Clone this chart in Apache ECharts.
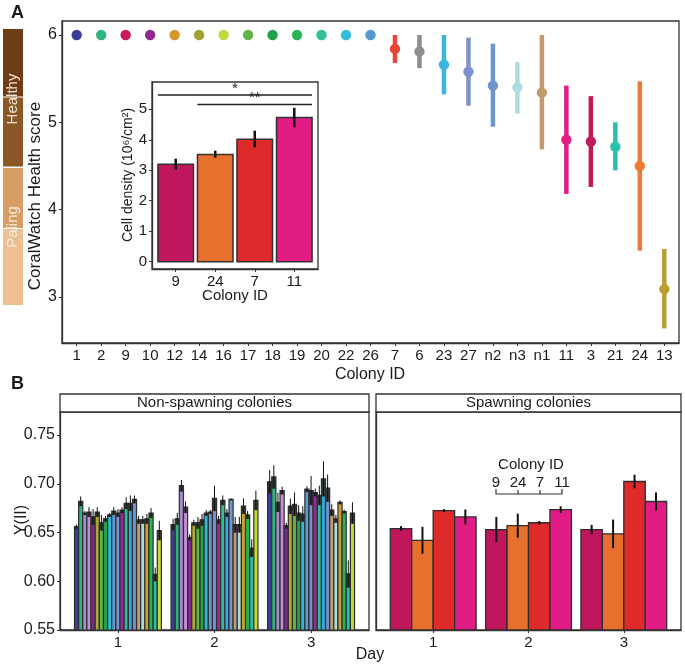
<!DOCTYPE html>
<html><head><meta charset="utf-8">
<script src="https://cdn.jsdelivr.net/npm/echarts@6.0.0/dist/echarts.min.js"></script>
<style>html,body{margin:0;padding:0;background:#fff}#c{width:685px;height:665px}</style>
</head><body><div id="c"></div>
<script>
// ---------- Panel A data ----------
const colonyIds = ['1','2','9','10','12','14','16','17','18','19','20','22','26','7','6','23','27','n2','n3','n1','11','3','21','24','13'];
const healthMean = [6,6,6,6,6,6,6,6,6,6,6,6,6,5.84,5.81,5.66,5.58,5.42,5.40,5.34,4.80,4.78,4.72,4.50,3.09];
const healthLow  = [6,6,6,6,6,6,6,6,6,6,6,6,6,5.68,5.62,5.32,5.19,4.95,5.10,4.69,4.18,4.26,4.45,3.53,2.64];
const healthHigh = [6,6,6,6,6,6,6,6,6,6,6,6,6,6.00,6.00,6.00,5.97,5.90,5.69,6.00,5.42,5.30,5.00,5.47,3.55];
const healthColors = ['#3b3e98','#2db57c','#c8195e','#93278f','#d5962b','#9fa332','#c4d93d','#62b647','#21a24a','#2ab552','#2fc09b','#33bcd5','#5598d2','#e8453c','#8e8e8e','#3cb4e0','#7f8fcc','#6f96cc','#a9dde2','#c49a6c','#e01e84','#be1a5c','#2bbfb0','#ef7a35','#b8a030'];
const healthTicks = [3,4,5,6];

// ---------- Inset data ----------
const insetIds = ['9','24','7','11'];
const insetDensity = [3.20,3.52,4.02,4.73];
const insetLow  = [3.02,3.41,3.75,4.41];
const insetHigh = [3.38,3.64,4.30,5.05];
const insetTicks = [0,1,2,3,4,5];
const spawnColors = ['#c0175c','#e8702f','#de2a2a','#e11c85'];
const sigFrom = [0,1];
const sigTo = [3,3];
const sigY = [5.47,5.16];
const sigText = ['*','**'];

// ---------- Panel B data ----------
const days = ['1','2','3'];
const yiiTicks = [0.55,0.60,0.65,0.70,0.75];
const nsColors = ['#3b3e98','#2db57c','#a98bd0','#c28fd0','#7a2a90','#b0a830','#5fb548','#22a54a','#32b8d8','#5b9bd5','#7f8fcc','#9a2a9a','#2cbf9a','#3aa6dc','#6f96cc','#c49a6c','#a8dde0','#c9a030','#27b553','#2bbfb0','#c6d83a'];
const nsDay1 = [0.656,0.682,0.670,0.671,0.666,0.671,0.660,0.664,0.668,0.672,0.670,0.673,0.680,0.680,0.684,0.663,0.663,0.664,0.670,0.607,0.652];
const nsDay2 = [0.658,0.664,0.698,0.676,0.645,0.660,0.660,0.663,0.670,0.671,0.685,0.663,0.683,0.670,0.684,0.658,0.658,0.677,0.668,0.634,0.683];
const nsDay3 = [0.702,0.707,0.681,0.693,0.657,0.677,0.679,0.670,0.669,0.6945,0.693,0.691,0.688,0.705,0.6955,0.673,0.664,0.681,0.6715,0.6075,0.670];
const nsErr1 = [0.002,0.005,0.002,0.005,0.008,0.005,0.008,0.003,0.002,0.004,0.004,0.003,0.006,0.008,0.004,0.004,0.004,0.005,0.005,0.007,0.010];
const nsErr2 = [0.006,0.006,0.006,0.006,0.003,0.003,0.006,0.006,0.003,0.002,0.013,0.004,0.005,0.004,0.001,0.008,0.008,0.008,0.004,0.009,0.010];
const nsErr3 = [0.012,0.012,0.010,0.004,0.003,0.008,0.012,0.008,0.008,0.003,0.015,0.004,0.010,0.018,0.014,0.006,0.004,0.002,0.002,0.014,0.011];
const spawnDay1 = [0.654,0.642,0.6725,0.666];
const spawnDay2 = [0.653,0.657,0.660,0.6735];
const spawnDay3 = [0.653,0.6486,0.7023,0.6818];
const spawnErr1 = [0.0025,0.0138,0.0014,0.0076];
const spawnErr2 = [0.013,0.0123,0.0017,0.0034];
const spawnErr3 = [0.0048,0.0147,0.007,0.0093];

// ---------- build ----------
const FONT = '"Liberation Sans", Arial, Helvetica, sans-serif';
const TXT = '#1a1a1a';
const nsMeans = [nsDay1, nsDay2, nsDay3];
const nsErrs = [nsErr1, nsErr2, nsErr3];
const spMeans = [spawnDay1, spawnDay2, spawnDay3];
const spErrs = [spawnErr1, spawnErr2, spawnErr3];

const healthData = colonyIds.map((c, i) => [i + 1, healthMean[i], healthLow[i], healthHigh[i]]);
const insetData = insetIds.map((c, i) => [i + 1, insetDensity[i], insetLow[i], insetHigh[i]]);
const sigData = sigFrom.map((f, i) => [f + 1, sigTo[i] + 1, sigY[i]]);
const nsData = [];
days.forEach((d, di) => nsMeans[di].forEach((m, k) => nsData.push([di + 1, k, m, nsErrs[di][k]])));
const spData = [];
days.forEach((d, di) => spMeans[di].forEach((m, k) => spData.push([di + 1, k, m, spErrs[di][k]])));

function gridBase(left, top, width, height) {
  return {left, top, width, height, show: true, borderColor: '#333', borderWidth: 1.3,
    backgroundColor: '#fff', containLabel: false, outerBoundsMode: 'none'};
}
function valX(gi, min, max, vals, labels, show) {
  return {type: 'value', gridIndex: gi, min, max,
    axisLine: {show: true, onZero: false, lineStyle: {color: '#333', width: 1.3}},
    splitLine: {show: false},
    axisTick: {show: show, length: 3, customValues: vals, lineStyle: {color: '#333'}},
    axisLabel: {show: show, customValues: vals, margin: 5, color: TXT, fontSize: 15, fontFamily: FONT,
      formatter: v => labels[Math.round(v) - 1]}};
}
function valY(gi, min, max, vals, fmt, show, fs) {
  return {type: 'value', gridIndex: gi, min, max,
    axisLine: {show: true, onZero: false, lineStyle: {color: '#333', width: 1.3}},
    splitLine: {show: false},
    axisTick: {show: show, length: 3, customValues: vals, lineStyle: {color: '#333'}},
    axisLabel: {show: show, customValues: vals, margin: 5, color: TXT, fontSize: fs, fontFamily: FONT, formatter: fmt}};
}

function groupedBars(n, colors, stroke, errW, darkTop) {
  return function (params, api) {
    const d = api.value(0), k = api.value(1), m = api.value(2), e = api.value(3);
    const unit = api.size([1, 0])[0];
    const top = api.coord([d, m]);
    const base = api.coord([d, 0.55])[1];
    const bw = unit * 0.9 / n;
    const x0 = top[0] - unit * 0.45 + k * bw;
    const yLo = api.coord([d, m - e])[1];
    const yHi = api.coord([d, m + e])[1];
    const ch = [{type: 'rect', shape: {x: x0, y: top[1], width: bw, height: base - top[1]},
      style: {fill: colors[k], stroke: '#2e2e2e', lineWidth: stroke}}];
    if (darkTop) ch.push({type: 'rect', shape: {x: x0, y: top[1], width: bw, height: yLo - top[1]},
      style: {fill: 'rgba(45,45,45,0.9)'}});
    ch.push({type: 'line', shape: {x1: x0 + bw / 2, y1: yLo, x2: x0 + bw / 2, y2: yHi},
      style: {stroke: '#111', lineWidth: errW}});
    return {type: 'group', children: ch};
  };
}

const option = {
  animation: false,
  backgroundColor: '#fff',
  textStyle: {fontFamily: FONT},
  grid: [
    gridBase(62, 21, 617, 322),
    gridBase(152, 82, 166, 187),
    gridBase(60, 412, 309, 218),
    gridBase(376, 412, 305, 218)
  ],
  xAxis: [
    valX(0, 0.4, colonyIds.length + 0.6, colonyIds.map((c, i) => i + 1), colonyIds, true),
    valX(1, 0.4, insetIds.length + 0.6, insetIds.map((c, i) => i + 1), insetIds, true),
    valX(2, 0.4, days.length + 0.6, days.map((c, i) => i + 1), days, true),
    valX(3, 0.4, days.length + 0.6, days.map((c, i) => i + 1), days, true)
  ],
  yAxis: [
    valY(0, 2.473, 6.16, healthTicks, v => String(v), true, 16),
    valY(1, -0.24, 5.896, insetTicks, v => String(v), true, 15),
    valY(2, 0.55, 0.7736, yiiTicks, v => v.toFixed(2), true, 16),
    valY(3, 0.55, 0.7736, yiiTicks, v => v.toFixed(2), false, 16)
  ],
  series: [
    {type: 'custom', xAxisIndex: 0, yAxisIndex: 0, data: healthData, encode: {x: 0, y: [1, 2, 3]}, z: 5,
      renderItem: function (params, api) {
        const x = api.value(0), m = api.value(1), lo = api.value(2), hi = api.value(3);
        const c = healthColors[params.dataIndex];
        const p = api.coord([x, m]);
        const ch = [];
        if (hi > lo) {
          const pl = api.coord([x, lo]), ph = api.coord([x, hi]);
          ch.push({type: 'line', shape: {x1: pl[0], y1: pl[1], x2: ph[0], y2: ph[1]}, style: {stroke: c, lineWidth: 4.5}});
        }
        ch.push({type: 'circle', shape: {cx: p[0], cy: p[1], r: 5.2}, style: {fill: c}});
        return {type: 'group', children: ch};
      }},
    {type: 'custom', xAxisIndex: 1, yAxisIndex: 1, data: insetData, encode: {x: 0, y: [1, 2, 3]}, z: 6,
      renderItem: function (params, api) {
        const x = api.value(0), m = api.value(1), lo = api.value(2), hi = api.value(3);
        const unit = api.size([1, 0])[0];
        const p = api.coord([x, m]);
        const b = api.coord([x, 0]);
        const pl = api.coord([x, lo]), ph = api.coord([x, hi]);
        return {type: 'group', children: [
          {type: 'rect', shape: {x: p[0] - unit * 0.45, y: p[1], width: unit * 0.9, height: b[1] - p[1]},
            style: {fill: spawnColors[params.dataIndex], stroke: '#333', lineWidth: 1.5}},
          {type: 'line', shape: {x1: pl[0], y1: pl[1], x2: ph[0], y2: ph[1]}, style: {stroke: '#111', lineWidth: 2.5}}
        ]};
      }},
    {type: 'custom', xAxisIndex: 1, yAxisIndex: 1, data: sigData, encode: {x: [0, 1], y: 2}, z: 6,
      renderItem: function (params, api) {
        const f = api.value(0), t = api.value(1), y = api.value(2);
        const unit = api.size([1, 0])[0];
        const a = api.coord([f, y]), b = api.coord([t, y]);
        const x1 = a[0] - unit * 0.45, x2 = b[0] + unit * 0.45;
        return {type: 'group', children: [
          {type: 'line', shape: {x1: x1, y1: a[1], x2: x2, y2: a[1]}, style: {stroke: '#222', lineWidth: 1.5}},
          {type: 'text', x: (x1 + x2) / 2, y: a[1] + 1, style: {text: sigText[params.dataIndex], fill: TXT,
            font: '15px ' + FONT, textAlign: 'center', textVerticalAlign: 'bottom'}}
        ]};
      }},
    {type: 'custom', xAxisIndex: 2, yAxisIndex: 2, data: nsData, encode: {x: 0, y: 2}, clip: true, z: 5,
      renderItem: groupedBars(nsColors.length, nsColors, 1.2, 1, true)},
    {type: 'custom', xAxisIndex: 3, yAxisIndex: 3, data: spData, encode: {x: 0, y: 2}, clip: true, z: 5,
      renderItem: groupedBars(spawnColors.length, spawnColors, 1.3, 2, false)}
  ],
  graphic: [
    {type: 'text', x: 11, y: 4, style: {text: 'A', font: 'bold 18px ' + FONT, fill: TXT}},
    {type: 'text', x: 11, y: 375, style: {text: 'B', font: 'bold 18px ' + FONT, fill: TXT}},
    {type: 'rect', shape: {x: 3, y: 29, width: 20, height: 67.5}, style: {fill: '#6e3d15'}},
    {type: 'rect', shape: {x: 3, y: 97.5, width: 20, height: 69}, style: {fill: '#8c5726'}},
    {type: 'rect', shape: {x: 3, y: 168, width: 20, height: 60}, style: {fill: '#d69e64'}},
    {type: 'rect', shape: {x: 3, y: 229, width: 20, height: 76}, style: {fill: '#ecc091'}},
    {type: 'text', x: 13, y: 99, rotation: Math.PI / 2, style: {text: 'Healthy', fill: '#f3e6d8',
      font: '15px ' + FONT, textAlign: 'center', textVerticalAlign: 'middle'}},
    {type: 'text', x: 13, y: 227, rotation: Math.PI / 2, style: {text: 'Paling', fill: '#f7ebde',
      font: '15px ' + FONT, textAlign: 'center', textVerticalAlign: 'middle'}},
    {type: 'text', x: 35, y: 196, rotation: Math.PI / 2, style: {text: 'CoralWatch Health score', fill: TXT,
      font: '17px ' + FONT, textAlign: 'center', textVerticalAlign: 'middle'}},
    {type: 'text', x: 370, y: 375, style: {text: 'Colony ID', fill: TXT, font: '16px ' + FONT,
      textAlign: 'center', textVerticalAlign: 'middle'}},
    {type: 'text', x: 128, y: 175, rotation: Math.PI / 2, z: 10, style: {text: 'Cell density (10\u2076/cm\u00b2)', fill: TXT,
      font: '14px ' + FONT, textAlign: 'center', textVerticalAlign: 'middle'}},
    {type: 'text', x: 235, y: 296, z: 10, style: {text: 'Colony ID', fill: TXT, font: '15px ' + FONT,
      textAlign: 'center', textVerticalAlign: 'middle'}},
    {type: 'rect', shape: {x: 60, y: 394, width: 309, height: 18}, style: {fill: '#fff', stroke: '#333', lineWidth: 1.3}},
    {type: 'rect', shape: {x: 376, y: 394, width: 305, height: 18}, style: {fill: '#fff', stroke: '#333', lineWidth: 1.3}},
    {type: 'text', x: 214.5, y: 403, style: {text: 'Non-spawning colonies', fill: TXT, font: '15px ' + FONT,
      textAlign: 'center', textVerticalAlign: 'middle'}},
    {type: 'text', x: 528.5, y: 403, style: {text: 'Spawning colonies', fill: TXT, font: '15px ' + FONT,
      textAlign: 'center', textVerticalAlign: 'middle'}},
    {type: 'text', x: 22, y: 520, rotation: Math.PI / 2, style: {text: 'Y(II)', fill: TXT, font: '16px ' + FONT,
      textAlign: 'center', textVerticalAlign: 'middle'}},
    {type: 'text', x: 370, y: 655, style: {text: 'Day', fill: TXT, font: '16px ' + FONT,
      textAlign: 'center', textVerticalAlign: 'middle'}},
    {type: 'text', x: 531, y: 465, z: 10, style: {text: 'Colony ID', fill: TXT, font: '15px ' + FONT,
      textAlign: 'center', textVerticalAlign: 'middle'}},
    {type: 'text', x: 496, y: 483, z: 10, style: {text: insetIds[0], fill: TXT, font: '15px ' + FONT, textAlign: 'center', textVerticalAlign: 'middle'}},
    {type: 'text', x: 518, y: 483, z: 10, style: {text: insetIds[1], fill: TXT, font: '15px ' + FONT, textAlign: 'center', textVerticalAlign: 'middle'}},
    {type: 'text', x: 540, y: 483, z: 10, style: {text: insetIds[2], fill: TXT, font: '15px ' + FONT, textAlign: 'center', textVerticalAlign: 'middle'}},
    {type: 'text', x: 562, y: 483, z: 10, style: {text: insetIds[3], fill: TXT, font: '15px ' + FONT, textAlign: 'center', textVerticalAlign: 'middle'}},
    {type: 'polyline', z: 10, shape: {points: [[496, 489], [496, 494], [562, 494], [562, 489]]}, style: {stroke: '#333', lineWidth: 1.2, fill: null}},
    {type: 'line', z: 10, shape: {x1: 518, y1: 494, x2: 518, y2: 490}, style: {stroke: '#333', lineWidth: 1.2}},
    {type: 'line', z: 10, shape: {x1: 540, y1: 494, x2: 540, y2: 490}, style: {stroke: '#333', lineWidth: 1.2}}
  ]
};
const chart = echarts.init(document.getElementById('c'), null, {renderer: 'canvas'});
chart.setOption(option);
</script></body></html>
